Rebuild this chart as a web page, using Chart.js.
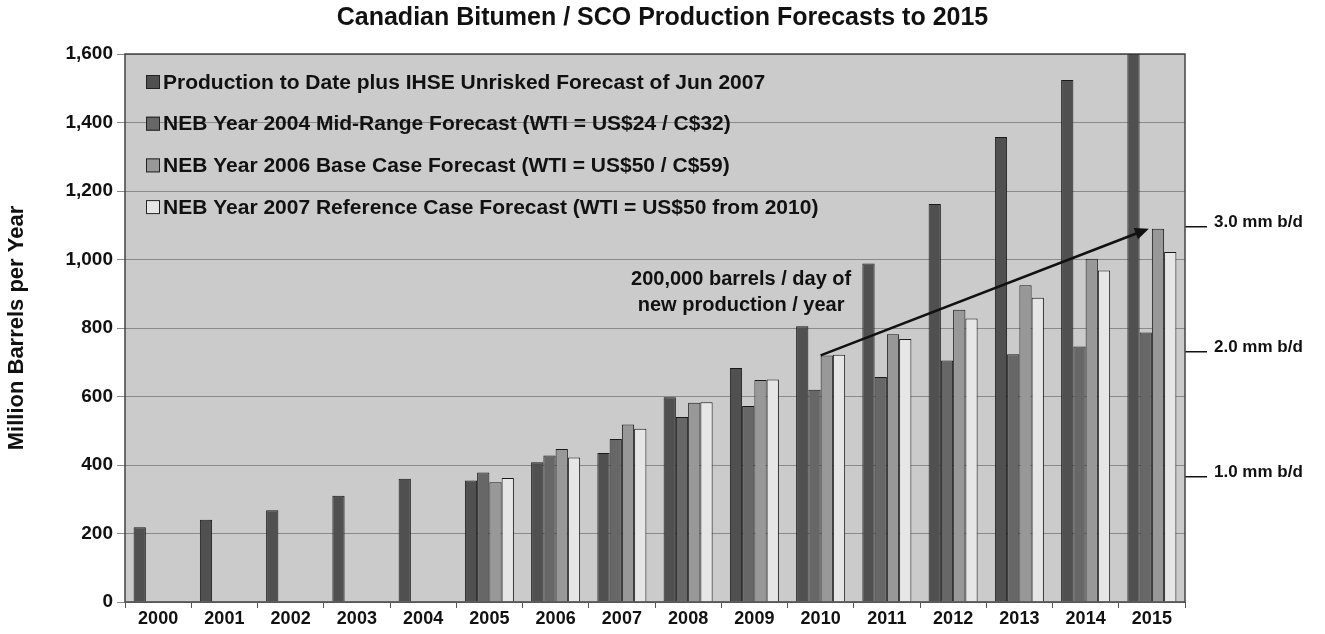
<!DOCTYPE html>
<html>
<head>
<meta charset="utf-8">
<script src="https://cdn.jsdelivr.net/npm/chart.js@4"></script>
<style>
  html, body { margin: 0; padding: 0; background: #fff; }
  #wrap { position: relative; width: 1325px; height: 634px; }
</style>
</head>
<body>
<div id="wrap"><canvas id="chart"></canvas></div>
<script>
const years = ['2000', '2001', '2002', '2003', '2004', '2005', '2006', '2007',
  '2008', '2009', '2010', '2011', '2012', '2013', '2014', '2015']

const production = [218, 240, 268, 310, 360, 355, 408, 435, 598, 683, 805, 988, 1162, 1358, 1524, 1600]
const neb2004 = [null, null, null, null, null, 378, 428, 476, 540, 572, 620, 657, 705, 723, 746, 787]
const neb2006 = [null, null, null, null, null, 350, 447, 518, 582, 648, 720, 782, 853, 925, 1002, 1090]
const neb2007 = [null, null, null, null, null, 362, 422, 506, 583, 650, 722, 768, 828, 888, 968, 1022]

const seriesLabels = [
  'Production to Date plus IHSE Unrisked Forecast of Jun 2007',
  'NEB Year 2004 Mid-Range Forecast (WTI = US$24 / C$32)',
  'NEB Year 2006 Base Case Forecast (WTI = US$50 / C$59)',
  'NEB Year 2007 Reference Case Forecast (WTI = US$50 from 2010)'
]
const seriesColors = ['#505050', '#676767', '#989898', '#e6e6e6']

// right-hand axis: million barrels per day expressed in million barrels per year
const mmbdTicks = [365, 730, 1095]
const mmbdLabels = ['1.0 mm b/d', '2.0 mm b/d', '3.0 mm b/d']

const noteLines = ['200,000 barrels / day of', 'new production / year']

const FONT = '"Liberation Sans", Arial, sans-serif'

const plotFrame = {
  id: 'plotFrame',
  beforeDraw(chart) {
    const { ctx, chartArea: a } = chart
    ctx.save()
    ctx.fillStyle = '#cbcbcb'
    ctx.fillRect(a.left, a.top, a.right - a.left, a.bottom - a.top)
    ctx.restore()
  },
  afterDatasetsDraw(chart) {
    const { ctx, chartArea: a } = chart
    const x = chart.scales.x
    const y = chart.scales.y
    ctx.save()
    // frame
    ctx.strokeStyle = '#444'
    ctx.lineWidth = 1.5
    ctx.strokeRect(a.left, a.top, a.right - a.left, a.bottom - a.top)

    // legend inside plot
    ctx.font = 'bold 21px ' + FONT
    ctx.textBaseline = 'middle'
    ctx.textAlign = 'left'
    seriesLabels.forEach((lab, i) => {
      const ry = a.top + 28 + i * 41.7
      ctx.fillStyle = seriesColors[i]
      ctx.fillRect(a.left + 21, ry - 7, 14, 14)
      ctx.strokeStyle = '#222'
      ctx.lineWidth = 1
      ctx.strokeRect(a.left + 21.5, ry - 6.5, 13, 13)
      ctx.fillStyle = '#111'
      ctx.fillText(lab, a.left + 38, ry + 1)
    })

    // note
    ctx.textAlign = 'center'
    ctx.font = 'bold 20px ' + FONT
    const nx = x.getPixelForValue(8.8)
    ctx.fillText(noteLines[0], nx, y.getPixelForValue(943))
    ctx.fillText(noteLines[1], nx, y.getPixelForValue(867))

    // arrow from 2010 to 2015 on the NEB 2006 series
    const meta = chart.getDatasetMeta(2)
    const b0 = meta.data[10]
    const b1 = meta.data[15]
    const x0 = b0.x - b0.width / 2, y0 = b0.y
    const x1 = b1.x - b1.width / 2 - 3, y1 = b1.y
    const ang = Math.atan2(y1 - y0, x1 - x0)
    ctx.strokeStyle = '#111'
    ctx.fillStyle = '#111'
    ctx.lineWidth = 2.5
    ctx.beginPath()
    ctx.moveTo(x0, y0)
    ctx.lineTo(x1 - 10 * Math.cos(ang), y1 - 10 * Math.sin(ang))
    ctx.stroke()
    ctx.beginPath()
    ctx.moveTo(x1, y1)
    ctx.lineTo(x1 - 14 * Math.cos(ang) + 6 * Math.sin(ang), y1 - 14 * Math.sin(ang) - 6 * Math.cos(ang))
    ctx.lineTo(x1 - 14 * Math.cos(ang) - 6 * Math.sin(ang), y1 - 14 * Math.sin(ang) + 6 * Math.cos(ang))
    ctx.closePath()
    ctx.fill()
    ctx.restore()
  }
}

const datasets = [production, neb2004, neb2006, neb2007].map((d, i) => ({
  label: seriesLabels[i],
  data: d,
  backgroundColor: seriesColors[i],
  borderColor: '#1a1a1a',
  borderWidth: 1,
  categoryPercentage: 0.74,
  barPercentage: 1.0
}))

new Chart('chart', {
  type: 'bar',
  data: { labels: years, datasets },
  plugins: [plotFrame],
  options: {
    responsive: true,
    maintainAspectRatio: false,
    animation: false,
    layout: { padding: 0 },
    plugins: {
      legend: { display: false },
      tooltip: { enabled: false },
      title: {
        display: true,
        text: 'Canadian Bitumen / SCO Production Forecasts to 2015',
        color: '#111',
        font: { family: FONT, size: 25, weight: 'bold' },
        padding: { top: 3, bottom: 21 }
      }
    },
    scales: {
      x: {
        grid: { drawOnChartArea: false, drawTicks: true, tickLength: 6, color: '#555' },
        border: { display: false },
        ticks: { color: '#111', font: { family: FONT, size: 18, weight: 'bold' }, padding: 0, maxRotation: 0 },
        afterFit(s) { s.height = 32 }
      },
      y: {
        min: 0,
        max: 1600,
        grid: { color: '#8a8a8a', lineWidth: 1, tickLength: 8 },
        border: { display: false },
        ticks: {
          stepSize: 200,
          color: '#111',
          padding: 4,
          font: { family: FONT, size: 19, weight: 'bold' },
          callback: v => v.toLocaleString('en-US')
        },
        title: {
          display: true,
          text: 'Million Barrels per Year',
          color: '#111',
          font: { family: FONT, size: 22, weight: 'bold' },
          padding: { top: 4, bottom: 6 }
        },
        afterFit(s) { s.width = 125 }
      },
      y2: {
        position: 'right',
        min: 0,
        max: 1600,
        grid: { drawOnChartArea: false, tickLength: 22, color: '#111', lineWidth: 1.5 },
        border: { display: false },
        afterBuildTicks(s) { s.ticks = mmbdTicks.map(v => ({ value: v })) },
        ticks: {
          color: '#111',
          padding: 7,
          labelOffset: -5,
          font: { family: FONT, size: 17, weight: 'bold' },
          callback: v => mmbdLabels[mmbdTicks.indexOf(v)]
        },
        afterFit(s) { s.width = 140 }
      }
    }
  }
})
</script>
</body>
</html>
